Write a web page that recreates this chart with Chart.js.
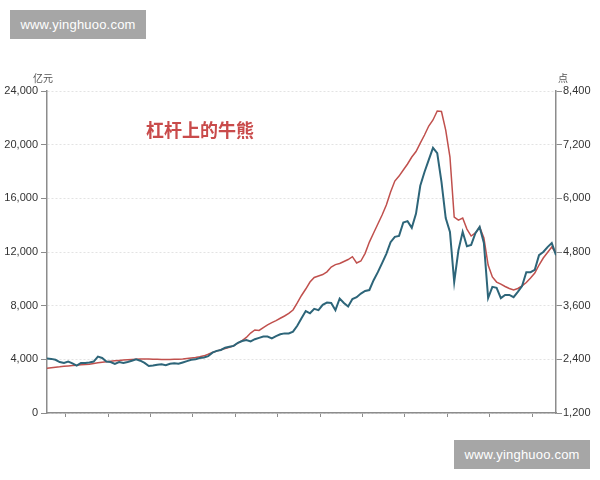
<!DOCTYPE html>
<html><head><meta charset="utf-8">
<script src="https://cdn.jsdelivr.net/npm/chart.js@4.4.0/dist/chart.umd.min.js"></script>
<style>
html,body{margin:0;padding:0;background:#fff;}
#wrap{position:relative;width:600px;height:480px;overflow:hidden;}
canvas{position:absolute;left:0;top:0;}
.wm{position:absolute;background:#a6a6a6;color:#fff;font:13px "Liberation Sans",Arial,sans-serif;display:flex;align-items:center;justify-content:center;letter-spacing:0.2px;}
</style></head><body>
<div id="wrap"><canvas id="c" width="600" height="480"></canvas>
<div class="wm" style="left:10px;top:10px;width:136px;height:29px;">www.yinghuoo.com</div>
<div class="wm" style="left:454px;top:440px;width:136px;height:29px;">www.yinghuoo.com</div>
</div>
<script>
const titleText = '杠杆上的牛熊';
const leftUnit = '亿元';
const rightUnit = '点';
const seriesNames = ['两融余额', '指数'];
const periods = Array.from({length: 121}, (_, i) => i);
const marginBalance = [
  3330, 3370, 3410, 3440, 3480, 3510, 3540, 3560, 3590, 3610,
  3640, 3690, 3740, 3790, 3820, 3860, 3890, 3920, 3950, 3970,
  3990, 4010, 4020, 4020, 4020, 4010, 4000, 3990, 3990, 3990,
  4000, 4010, 4020, 4060, 4100, 4140, 4190, 4260, 4380, 4510,
  4610, 4720, 4800, 4890, 5010, 5200, 5400, 5630, 5960, 6190,
  6150, 6370, 6570, 6740, 6890, 7060, 7230, 7420, 7680, 8200,
  8760, 9240, 9760, 10100, 10210, 10320, 10520, 10880, 11060, 11140,
  11290, 11440, 11650, 11180, 11330, 11900, 12740, 13420, 14090, 14760,
  15500, 16470, 17290, 17660, 18110, 18560, 19080, 19490, 20120, 20720,
  21390, 21840, 22510, 22470, 21090, 19080, 14610, 14380, 14530, 13710,
  13190, 13420, 13860, 13040, 11030, 10140, 9760, 9610, 9430, 9280,
  9170, 9280, 9470, 9730, 10060, 10430, 11030, 11550, 11960, 12370, 11920
];
const indexPoints = [
  2420, 2410, 2390, 2340, 2320, 2350, 2310, 2260, 2320, 2320,
  2330, 2350, 2460, 2430, 2350, 2340, 2300, 2340, 2320, 2340,
  2370, 2400, 2370, 2320, 2250, 2260, 2280, 2290, 2270, 2300,
  2310, 2300, 2330, 2360, 2390, 2400, 2430, 2440, 2470, 2550,
  2590, 2610, 2660, 2680, 2700, 2770, 2810, 2830, 2800, 2850,
  2880, 2910, 2910, 2870, 2920, 2960, 2980, 2980, 3020, 3150,
  3320, 3480, 3430, 3530, 3500, 3620, 3670, 3660, 3500, 3760,
  3660, 3580, 3750, 3790, 3870, 3930, 3950, 4170, 4350, 4550,
  4760, 5020, 5140, 5160, 5460, 5490, 5340, 5660, 6280, 6590,
  6860, 7130, 7010, 6370, 5560, 5250, 4130, 4840, 5250, 4930,
  4960, 5220, 5360, 5000, 3770, 4020, 4000, 3770, 3840, 3840,
  3790, 3910, 4040, 4350, 4350, 4400, 4730, 4800, 4910, 5000, 4730
];
const leftAxisTicks = [0, 4000, 8000, 12000, 16000, 20000, 24000];
const rightAxisTicks = [1200, 2400, 3600, 4800, 6000, 7200, 8400];
const xTickPositions = [4.4, 14.4, 24.4, 34.4, 44.4, 54.4, 64.4, 74.4, 84.4, 94.4, 104.4, 114.4];

const axisColor = '#8c8c8c';
const tickFont = {family: '"Liberation Sans", Arial, sans-serif', size: 11};

const textPlugin = {
  id: 'texts',
  afterDraw(chart) {
    const {ctx, chartArea} = chart;
    ctx.save();
    ctx.textBaseline = 'middle';
    ctx.textAlign = 'center';
    ctx.fillStyle = '#555';
    ctx.font = '10px "Noto Sans CJK SC", sans-serif';
    ctx.fillText(leftUnit, chartArea.left - 4, chartArea.top - 13);
    ctx.fillText(rightUnit, chartArea.right + 7, chartArea.top - 13);
    ctx.textAlign = 'left';
    ctx.fillStyle = '#c94b4b';
    ctx.font = 'bold 18px "Noto Sans CJK SC", sans-serif';
    ctx.fillText(titleText, chartArea.left + 99, chartArea.top + 39);
    ctx.restore();
  }
};

new Chart(document.getElementById('c'), {
  type: 'line',
  data: {
    labels: periods,
    datasets: [
      {label: seriesNames[0], data: marginBalance, yAxisID: 'yL', borderColor: '#c0504d', borderWidth: 1.5, pointRadius: 0, tension: 0, order: 2},
      {label: seriesNames[1], data: indexPoints, yAxisID: 'yR', borderColor: '#2d6579', borderWidth: 2, pointRadius: 0, tension: 0, order: 1}
    ]
  },
  options: {
    responsive: false,
    devicePixelRatio: 1,
    animation: false,
    layout: {padding: {top: 91, bottom: 57, left: 0, right: 0}},
    plugins: {legend: {display: false}, tooltip: {enabled: false}},
    scales: {
      x: {
        type: 'linear', min: 0, max: 120,
        afterBuildTicks(scale) { scale.ticks = xTickPositions.map(v => ({value: v})); },
        afterFit(scale) { scale.height = 10; },
        ticks: {display: false},
        grid: {drawOnChartArea: false, drawTicks: true, tickLength: 4, tickColor: axisColor, tickWidth: 1},
        border: {display: true, color: axisColor, width: 1.5}
      },
      yL: {
        position: 'left', min: 0, max: 24000,
        afterBuildTicks(scale) { scale.ticks = leftAxisTicks.map(v => ({value: v})); },
        afterFit(scale) { scale.width = 47; },
        ticks: {font: tickFont, color: '#333', padding: 3},
        grid: {color: '#e3e3e3', lineWidth: 1, tickColor: axisColor, tickLength: 6, tickWidth: 1},
        border: {display: true, color: axisColor, width: 1.5, dash: [2, 2]}
      },
      yR: {
        position: 'right', min: 1200, max: 8400,
        afterBuildTicks(scale) { scale.ticks = rightAxisTicks.map(v => ({value: v})); },
        afterFit(scale) { scale.width = 44; },
        ticks: {font: tickFont, color: '#333', padding: 1},
        grid: {drawOnChartArea: false, tickColor: axisColor, tickLength: 6, tickWidth: 1},
        border: {display: true, color: axisColor, width: 1.5}
      }
    }
  },
  plugins: [textPlugin]
});
</script>
</body></html>
